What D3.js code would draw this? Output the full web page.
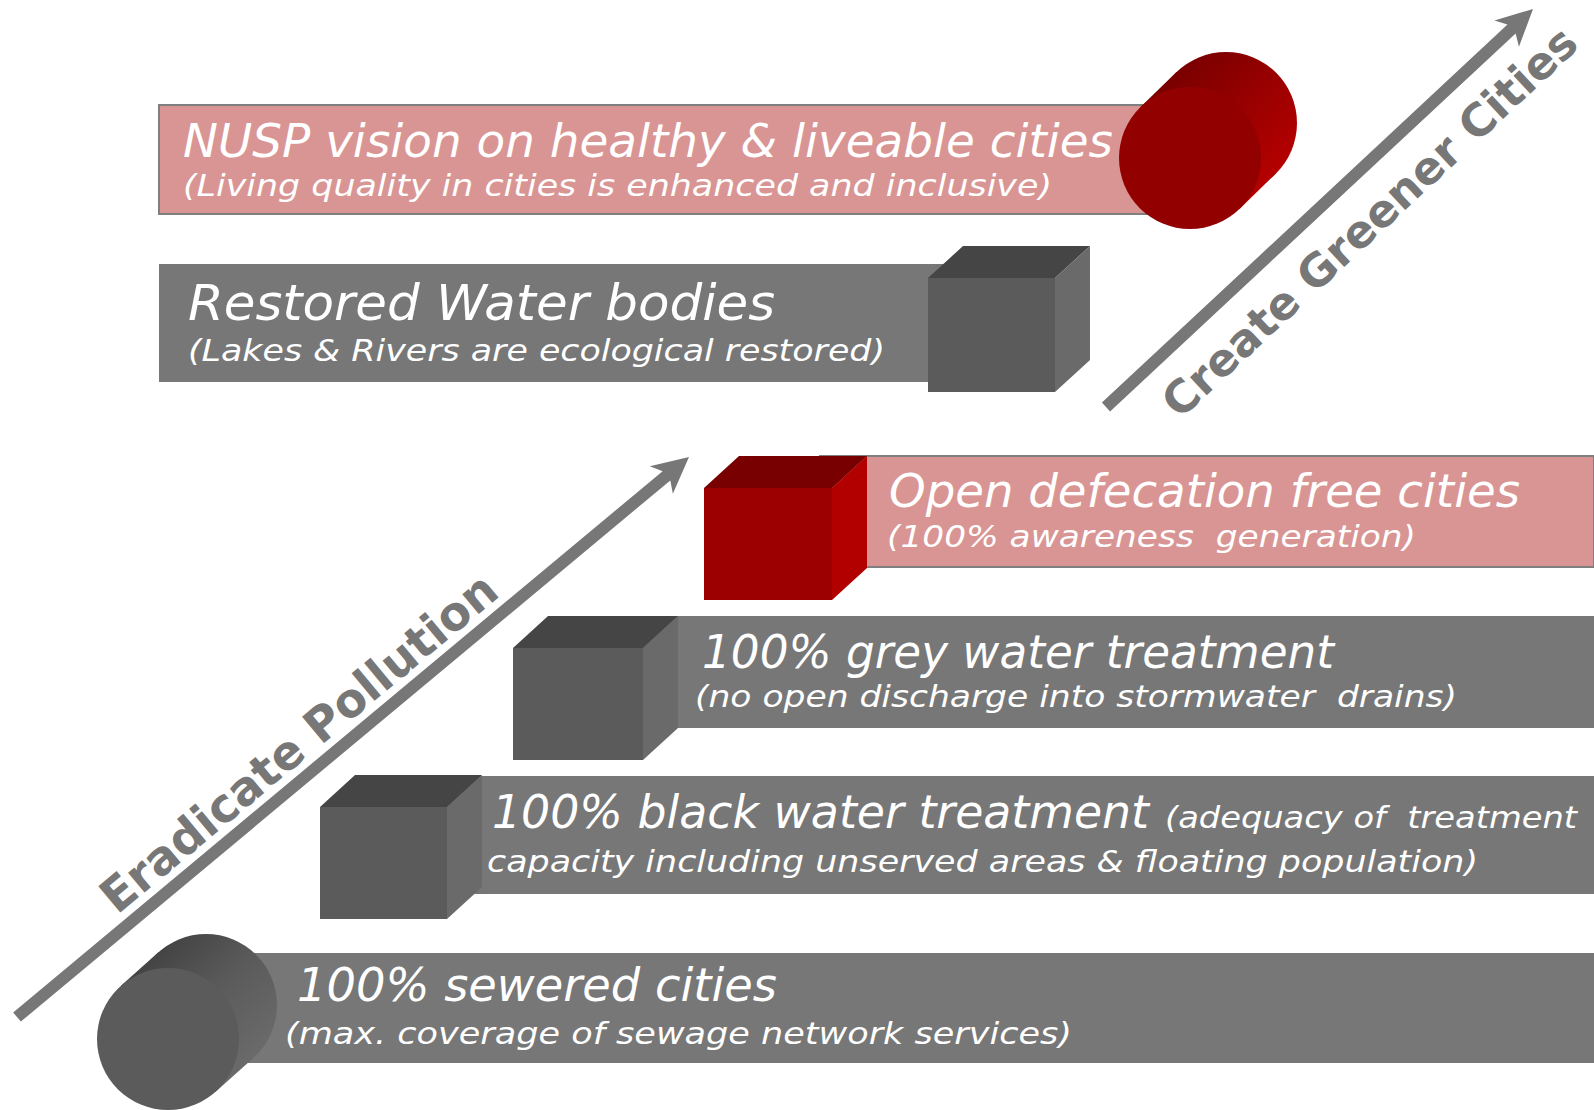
<!DOCTYPE html>
<html><head><meta charset="utf-8">
<script src="https://cdn.jsdelivr.net/npm/d3@7"></script>
<style>html,body{margin:0;padding:0;background:#fff;overflow:hidden} text{white-space:pre}</style>
</head><body><svg id="c" width="1594" height="1110"></svg>
<script>
// ---------- data ----------
const titles = [
  "100% sewered cities",
  "100% black water treatment",
  "100% grey water treatment",
  "Open defecation free cities",
  "Restored Water bodies",
  "NUSP vision on healthy & liveable cities"
];
const titleNotes = ["", "(adequacy of  treatment", "", "", "", ""];
const subtitles = [
  "(max. coverage of sewage network services)",
  "capacity including unserved areas & floating population)",
  "(no open discharge into stormwater  drains)",
  "(100% awareness  generation)",
  "(Lakes & Rivers are ecological restored)",
  "(Living quality in cities is enhanced and inclusive)"
];
const shapes = ["cylinder", "cube", "cube", "cube", "cube", "cylinder"];
const highlighted = [false, false, false, true, false, true];
const arrowLabels = ["Eradicate Pollution", "Create Greener Cities"];

// ---------- layout ----------
const svg = d3.select("#c");
const idx = d3.range(titles.length);
const barTop = d3.scaleOrdinal().domain(idx).range([953, 776, 616, 456, 264, 105]);
const barBottom = d3.scaleOrdinal().domain(idx).range([1063, 894, 728, 567, 382, 214]);
const barX0 = d3.scaleOrdinal().domain(idx).range([200, 440, 620, 820, 159, 159]);
const barX1 = d3.scaleOrdinal().domain(idx).range([1594, 1594, 1594, 1594, 960, 1180]);
const shapeX = d3.scaleOrdinal().domain(idx).range([168, 320, 513, 704, 928, 1190]);
const shapeY = d3.scaleOrdinal().domain(idx).range([1039, 807, 648, 488, 278, 158]);
const cubeW = d3.scaleOrdinal().domain(idx).range([0, 127, 130, 128, 127, 0]);
const cubeH = d3.scaleOrdinal().domain(idx).range([0, 112, 112, 112, 114, 0]);
const titleX = d3.scaleOrdinal().domain(idx).range([297, 492, 702, 889, 188, 183]);
const titleY = d3.scaleOrdinal().domain(idx).range([1001, 828, 668, 507, 320, 157]);
const titleLen = d3.scaleOrdinal().domain(idx).range([480, 657, 632, 631, 587, 930]);
const titleSize = d3.scaleOrdinal().domain(idx).range([46, 46, 46, 46, 50, 46]);
const subX = d3.scaleOrdinal().domain(idx).range([285, 487, 695, 887, 188, 183]);
const subY = d3.scaleOrdinal().domain(idx).range([1044, 872, 707, 547, 361, 196]);
const subLen = d3.scaleOrdinal().domain(idx).range([787, 991, 762, 529, 697, 869]);

const colors = {
  greyBar: "#777777", pinkBar: "#d99594", pinkStroke: "#7f7f7f",
  greyFront: "#5b5b5b", greyTop: "#454545", greySide: "#6a6a6a",
  redFront: "#9c0000", redTop: "#780000", redSide: "#b20000",
  arrow: "#777777"
};

const defs = svg.append("defs");

// ---------- bars ----------
svg.append("g").selectAll("rect").data(idx).join("rect")
  .attr("x", i => barX0(i)).attr("y", i => barTop(i))
  .attr("width", i => barX1(i) - barX0(i)).attr("height", i => barBottom(i) - barTop(i))
  .attr("fill", i => highlighted[i] ? colors.pinkBar : colors.greyBar)
  .attr("stroke", i => highlighted[i] ? colors.pinkStroke : "none")
  .attr("stroke-width", 2);

// ---------- text ----------
const tg = svg.append("g").attr("fill", "#fff")
  .attr("font-family", "'DejaVu Sans', Verdana, sans-serif").attr("font-style", "italic");
tg.selectAll("text.title").data(idx).join("text").attr("class", "title")
  .attr("x", i => titleX(i)).attr("y", i => titleY(i))
  .attr("font-size", i => titleSize(i))
  .attr("textLength", i => titleLen(i)).attr("lengthAdjust", "spacingAndGlyphs")
  .text(i => titles[i]);
tg.selectAll("text.sub").data(idx).join("text").attr("class", "sub")
  .attr("x", i => subX(i)).attr("y", i => subY(i))
  .attr("font-size", 31)
  .attr("textLength", i => subLen(i)).attr("lengthAdjust", "spacingAndGlyphs")
  .text(i => subtitles[i]);
tg.selectAll("text.note").data(idx.filter(i => titleNotes[i])).join("text").attr("class", "note")
  .attr("x", 1165).attr("y", i => titleY(i))
  .attr("font-size", 31).attr("textLength", 412).attr("lengthAdjust", "spacingAndGlyphs")
  .text(i => titleNotes[i]);

// ---------- cubes ----------
const depth = [35, -32];
const cubes = svg.append("g").selectAll("g").data(idx.filter(i => shapes[i] === "cube")).join("g");
cubes.each(function (i) {
  const g = d3.select(this);
  const x = shapeX(i), y = shapeY(i), w = cubeW(i), h = cubeH(i), dx = depth[0], dy = depth[1];
  const red = highlighted[i];
  g.append("polygon")
    .attr("points", [[x, y], [x + dx, y + dy], [x + w + dx, y + dy], [x + w, y]].join(" "))
    .attr("fill", red ? colors.redTop : colors.greyTop);
  g.append("polygon")
    .attr("points", [[x + w, y], [x + w + dx, y + dy], [x + w + dx, y + h + dy], [x + w, y + h]].join(" "))
    .attr("fill", red ? colors.redSide : colors.greySide);
  g.append("rect").attr("x", x).attr("y", y).attr("width", w).attr("height", h)
    .attr("fill", red ? colors.redFront : colors.greyFront);
});

// ---------- cylinders ----------
const cylOffset = d3.scaleOrdinal().domain([0, 5]).range([[38, -34], [36, -35]]);
const cyl = svg.append("g").selectAll("g").data(idx.filter(i => shapes[i] === "cylinder")).join("g");
cyl.each(function (i) {
  const g = d3.select(this);
  const cx = shapeX(i), cy = shapeY(i), r = 71;
  const [dx, dy] = cylOffset(i);
  const len = Math.hypot(dx, dy);
  const nx = -dy / len, ny = dx / len;
  const bx = cx + dx, by = cy + dy;
  const red = highlighted[i];
  const gid = "cg" + i;
  const grad = defs.append("linearGradient").attr("id", gid).attr("gradientUnits", "userSpaceOnUse")
    .attr("x1", bx - r * nx).attr("y1", by - r * ny).attr("x2", bx + r * nx).attr("y2", by + r * ny);
  const stops = red ? [["0", "#7a0000"], ["0.45", "#960000"], ["1", "#b40000"]]
                    : [["0", "#444444"], ["0.45", "#5a5a5a"], ["1", "#6a6a6a"]];
  grad.selectAll("stop").data(stops).join("stop").attr("offset", d => d[0]).attr("stop-color", d => d[1]);
  g.append("circle").attr("cx", bx).attr("cy", by).attr("r", r).attr("fill", `url(#${gid})`);
  g.append("polygon")
    .attr("points", [[cx - r * nx, cy - r * ny], [bx - r * nx, by - r * ny], [bx + r * nx, by + r * ny], [cx + r * nx, cy + r * ny]].join(" "))
    .attr("fill", `url(#${gid})`);
  g.append("circle").attr("cx", cx).attr("cy", cy).attr("r", r)
    .attr("fill", red ? "#930000" : "#5b5b5b");
});

// ---------- arrows ----------
const arrowGeom = [
  { x0: 17, y0: 1017, x1: 689, y1: 457, at: 392, off: -14, size: 47, len: 500 },
  { x0: 1106, y0: 407, x1: 1533, y1: 9, at: 319, off: 60, size: 45, len: 548 }
];
const ag = svg.append("g");
arrowGeom.forEach((a, k) => {
  const L = Math.hypot(a.x1 - a.x0, a.y1 - a.y0);
  const ang = Math.atan2(a.y1 - a.y0, a.x1 - a.x0) * 180 / Math.PI;
  const hw = 6, hl = 36, hh = 18, notch = 26;
  const sb = L - hl + (hl - notch) * (hh - hw) / hh;
  const g = ag.append("g").attr("transform", `translate(${a.x0},${a.y0}) rotate(${ang})`);
  g.append("polygon")
    .attr("points", [[0, -hw], [sb, -hw], [L - hl, -hh], [L, 0], [L - hl, hh], [sb, hw], [0, hw]].join(" "))
    .attr("fill", colors.arrow);
  g.append("text")
    .attr("x", a.at).attr("y", a.off)
    .attr("text-anchor", "middle")
    .attr("font-family", "'DejaVu Sans', sans-serif").attr("font-weight", "bold")
    .attr("font-size", a.size).attr("fill", colors.arrow)
    .attr("textLength", a.len).attr("lengthAdjust", "spacingAndGlyphs")
    .text(arrowLabels[k]);
});
</script>
</body></html>
